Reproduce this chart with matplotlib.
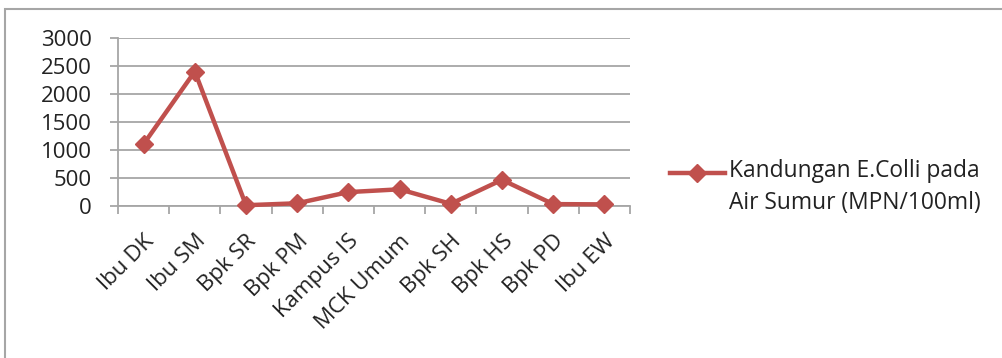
import matplotlib
matplotlib.use("Agg")
import matplotlib.pyplot as plt
from matplotlib.patches import Rectangle
from matplotlib.legend_handler import HandlerLine2D

categories = ["Ibu DK", "Ibu SM", "Bpk SR", "Bpk PM", "Kampus IS",
              "MCK Umum", "Bpk SH", "Bpk HS", "Bpk PD", "Ibu EW"]
ecoli = [1100, 2400, 5, 40, 240, 290, 30, 460, 25, 20]
series_label = "Kandungan E.Colli pada\nAir Sumur (MPN/100ml)"
yticks = [0, 500, 1000, 1500, 2000, 2500, 3000]

plt.rcParams['font.family'] = ['Open Sans', 'DejaVu Sans']
RED = '#C0504D'
GRID = '#A6A6A6'
TXT = '#222222'

fig = plt.figure(figsize=(10.02, 3.58), dpi=100)
ax = fig.add_axes([118/1002, 152.5/358, 512/1002, 167.5/358])

x = list(range(len(categories)))
line, = ax.plot(x, ecoli, color=RED, lw=3.2, marker='D', ms=9,
                markeredgecolor=RED, markerfacecolor=RED, label=series_label,
                solid_joinstyle='miter', clip_on=False, zorder=3)

ax.set_xlim(-0.5, len(categories) - 0.5)
ax.set_ylim(0, 3000)
ax.set_yticks(yticks)
ax.set_yticklabels([str(v) for v in yticks])
ax.yaxis.grid(True, color=GRID, lw=1.3)
ax.set_axisbelow(True)

ax.set_xticks([i - 0.5 for i in range(len(categories) + 1)])
ax.set_xticklabels([])
ax.set_xticks(x, minor=True)
ax.set_xticklabels(categories, minor=True, rotation=45, ha='right',
                   va='top', rotation_mode='anchor', fontsize=16, color=TXT)
ax.tick_params(axis='x', which='minor', length=0, pad=18)
ax.tick_params(axis='x', which='major', length=6, width=1.3, color=GRID, direction='out')
ax.tick_params(axis='y', length=6, width=1.3, color=GRID, direction='out',
               labelsize=16, labelcolor=TXT, pad=13)

for s in ['top', 'right']:
    ax.spines[s].set_visible(False)
for s in ['left', 'bottom']:
    ax.spines[s].set_color(GRID)
    ax.spines[s].set_linewidth(1.3)


class UpHandler(HandlerLine2D):
    def create_artists(self, legend, orig_handle, xdescent, ydescent,
                       width, height, fontsize, trans):
        shift = 11
        return super().create_artists(legend, orig_handle, xdescent,
                                      ydescent - 2 * shift, width, height,
                                      fontsize, trans)


leg = fig.legend(handles=[line], labels=[series_label], loc='center left',
                 bbox_to_anchor=(670/1002, 0.478), frameon=False, fontsize=16.4,
                 handlelength=2.4, handletextpad=0.2, borderpad=0, borderaxespad=0,
                 labelcolor=TXT, handler_map={line: UpHandler(numpoints=1)})
for t in leg.get_texts():
    t.set_linespacing(1.42)

fig.patches.append(Rectangle((5/1002, -0.5), 2, 0.975 + 0.5,
                             transform=fig.transFigure, fill=False,
                             edgecolor=GRID, lw=1.5))

fig.savefig("out.png", dpi=100)
